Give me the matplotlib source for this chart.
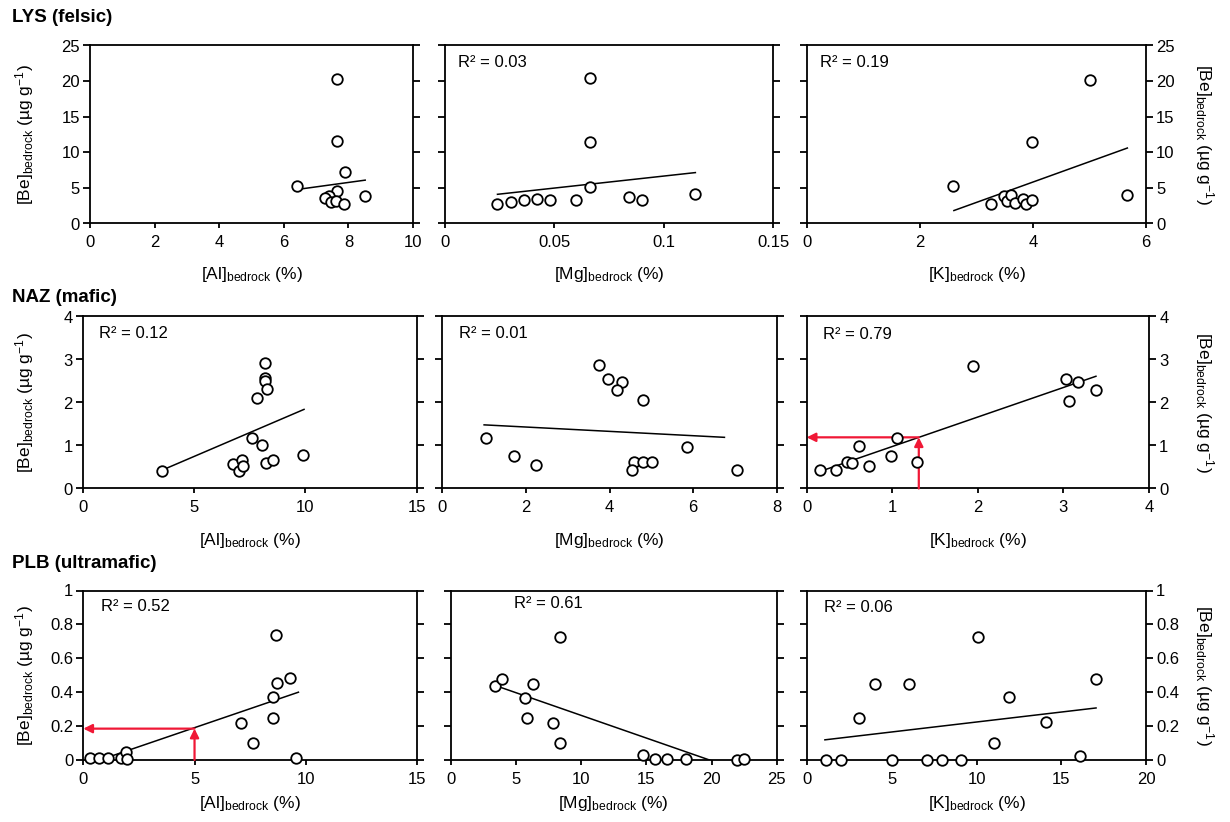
import matplotlib
matplotlib.use("Agg")
import matplotlib.pyplot as plt

plt.rcParams['font.family'] = ['Liberation Sans', 'DejaVu Sans']
plt.rcParams['mathtext.fontset'] = 'custom'
plt.rcParams['mathtext.rm'] = 'Liberation Sans'
plt.rcParams['mathtext.it'] = 'Liberation Sans:italic'
plt.rcParams['mathtext.bf'] = 'Liberation Sans:bold'

# ---------------- data ----------------
row_titles = ['LYS (felsic)', 'NAZ (mafic)', 'PLB (ultramafic)']
elements = ['Al', 'Mg', 'K']

# LYS (felsic)
lys_al_x = [6.40, 7.65, 7.65, 7.88, 7.65, 7.40, 7.28, 7.45, 7.62, 7.87, 8.52]
lys_al_y = [5.2, 20.3, 11.6, 7.3, 4.6, 3.9, 3.6, 3.0, 3.2, 2.8, 3.9]
lys_al_fit_x = [6.40, 8.52]
lys_al_fit_y = [4.77, 6.09]

lys_mg_x = [0.024, 0.030, 0.036, 0.042, 0.048, 0.060, 0.0665, 0.0665, 0.0665, 0.084, 0.090, 0.1145]
lys_mg_y = [2.7, 3.0, 3.3, 3.4, 3.3, 3.3, 5.1, 11.5, 20.4, 3.7, 3.3, 4.2]
lys_mg_fit_x = [0.024, 0.1145]
lys_mg_fit_y = [4.1, 7.15]

lys_k_x = [2.59, 3.26, 3.48, 3.54, 3.61, 3.68, 3.82, 3.88, 3.98, 3.99, 5.01, 5.66]
lys_k_y = [5.2, 2.75, 3.8, 3.1, 3.96, 2.9, 3.5, 2.8, 3.26, 11.4, 20.2, 3.96]
lys_k_fit_x = [2.60, 5.67]
lys_k_fit_y = [1.82, 10.6]

# NAZ (mafic)
naz_al_x = [3.58, 6.77, 7.00, 7.14, 7.20, 7.59, 7.81, 8.07, 8.19, 8.19, 8.20, 8.22, 8.26, 8.53, 9.91]
naz_al_y = [0.40, 0.56, 0.40, 0.66, 0.52, 1.18, 2.11, 1.01, 2.91, 2.57, 2.50, 0.60, 2.31, 0.66, 0.79]
naz_al_fit_x = [3.58, 9.94]
naz_al_fit_y = [0.43, 1.84]

naz_mg_x = [1.04, 1.72, 2.24, 3.76, 3.96, 4.31, 4.19, 4.81, 4.59, 4.81, 5.02, 4.53, 5.85, 7.04]
naz_mg_y = [1.17, 0.75, 0.55, 2.88, 2.54, 2.47, 2.29, 2.06, 0.62, 0.61, 0.61, 0.42, 0.96, 0.42]
naz_mg_fit_x = [1.00, 6.75]
naz_mg_fit_y = [1.48, 1.19]

naz_k_x = [0.16, 0.34, 0.47, 0.53, 0.61, 0.73, 0.99, 1.06, 1.29, 1.94, 3.03, 3.17, 3.07, 3.38]
naz_k_y = [0.44, 0.43, 0.62, 0.60, 0.98, 0.53, 0.75, 1.18, 0.61, 2.85, 2.55, 2.47, 2.04, 2.28]
naz_k_fit_x = [0.16, 3.38]
naz_k_fit_y = [0.40, 2.61]

# PLB (ultramafic)
plb_al_x = [0.30, 0.70, 1.12, 1.68, 1.90, 1.95, 7.09, 7.65, 8.52, 8.52, 8.70, 8.67, 9.27, 9.57]
plb_al_y = [0.01, 0.01, 0.014, 0.014, 0.045, 0.006, 0.22, 0.10, 0.25, 0.37, 0.455, 0.735, 0.484, 0.014]
plb_al_fit_x = [0.30, 9.67]
plb_al_fit_y = [-0.02, 0.40]

plb_mg_x = [3.40, 3.91, 6.34, 5.70, 5.83, 7.83, 8.39, 8.39, 14.71, 15.68, 16.57, 18.06, 21.94, 22.46]
plb_mg_y = [0.439, 0.478, 0.449, 0.366, 0.246, 0.217, 0.098, 0.724, 0.03, 0.006, 0.006, 0.006, 0.0, 0.006]
plb_mg_fit_x = [3.40, 22.46]
plb_mg_fit_y = [0.44, -0.07]

plb_k_x = [1.08, 1.99, 3.05, 4.0, 5.02, 6.0, 7.09, 7.97, 9.06, 10.06, 11.04, 11.93, 14.07, 16.1, 17.05]
plb_k_y = [0, 0, 0.25, 0.45, 0, 0.45, 0, 0, 0, 0.727, 0.103, 0.37, 0.222, 0.024, 0.479]
plb_k_fit_x = [1.04, 17.05]
plb_k_fit_y = [0.119, 0.307]

r2_texts = [[None, 'R² = 0.03', 'R² = 0.19'],
            ['R² = 0.12', 'R² = 0.01', 'R² = 0.79'],
            ['R² = 0.52', 'R² = 0.61', 'R² = 0.06']]

xticks = [[[0, 2, 4, 6, 8, 10], [0, 0.05, 0.1, 0.15], [0, 2, 4, 6]],
          [[0, 5, 10, 15], [0, 2, 4, 6, 8], [0, 1, 2, 3, 4]],
          [[0, 5, 10, 15], [0, 5, 10, 15, 20, 25], [0, 5, 10, 15, 20]]]
yticks = [[0, 5, 10, 15, 20, 25],
          [0, 1, 2, 3, 4],
          [0, 0.2, 0.4, 0.6, 0.8, 1]]

# red reading arrows: (x value, Be value)
naz_k_arrow = (1.31, 1.19)
plb_al_arrow = (5.0, 0.185)

data = [[(lys_al_x, lys_al_y, lys_al_fit_x, lys_al_fit_y),
         (lys_mg_x, lys_mg_y, lys_mg_fit_x, lys_mg_fit_y),
         (lys_k_x, lys_k_y, lys_k_fit_x, lys_k_fit_y)],
        [(naz_al_x, naz_al_y, naz_al_fit_x, naz_al_fit_y),
         (naz_mg_x, naz_mg_y, naz_mg_fit_x, naz_mg_fit_y),
         (naz_k_x, naz_k_y, naz_k_fit_x, naz_k_fit_y)],
        [(plb_al_x, plb_al_y, plb_al_fit_x, plb_al_fit_y),
         (plb_mg_x, plb_mg_y, plb_mg_fit_x, plb_mg_fit_y),
         (plb_k_x, plb_k_y, plb_k_fit_x, plb_k_fit_y)]]

# ---------------- layout (pixels) ----------------
W, H = 1230, 822
row_tb = [(45.5, 223.5), (316.5, 488.5), (590.5, 760.0)]
col_lr = [[(90, 413), (445, 773), (807, 1146)],
          [(82.7, 416.7), (442.3, 776.7), (806.7, 1149)],
          [(83.3, 417), (450.7, 776.7), (807.3, 1146)]]
title_y = [18, 297, 563]
xlabel_y = [274, 540, 803]
r2_pos = [[None, (0.04, 0.903), (0.037, 0.903)],
          [(0.049, 0.903), (0.051, 0.904), (0.049, 0.893)],
          [(0.053, 0.908), (0.195, 0.921), (0.05, 0.90)]]

RED = '#f01836'

fig = plt.figure(figsize=(W / 100, H / 100), dpi=100)

def fmt(v):
    return '{:g}'.format(v)

for r in range(3):
    t, b = row_tb[r]
    fig.text(12 / W, 1 - title_y[r] / H, row_titles[r], fontsize=13.5,
             fontweight='bold', ha='left', va='center')
    for c in range(3):
        l, rr = col_lr[r][c]
        ax = fig.add_axes([l / W, 1 - b / H, (rr - l) / W, (b - t) / H])
        x, y, fx, fy = data[r][c]
        xt = xticks[r][c]
        yt = yticks[r]
        ax.plot(fx, fy, color='black', lw=1.1, zorder=2)
        ax.plot(x, y, linestyle='none', marker='o', ms=7.6, mfc='white',
                mec='black', mew=1.3, clip_on=False, zorder=4)
        ax.set_xlim(xt[0], xt[-1])
        ax.set_ylim(yt[0], yt[-1])
        ax.set_xticks(xt)
        ax.set_xticklabels([fmt(v) for v in xt])
        ax.set_yticks(yt)
        ax.set_yticklabels([fmt(v) for v in yt])
        for sp in ax.spines.values():
            sp.set_linewidth(1.3)
            sp.set_color('black')
        ax.tick_params(axis='x', direction='out', length=3.5, width=1.3,
                       labelsize=12, pad=5)
        ax.tick_params(axis='y', direction='out', length=4.8, width=1.3,
                       labelsize=12, pad=2.5, left=True, right=True,
                       labelleft=(c == 0), labelright=(c == 2))
        ax.set_xlabel('[' + elements[c] + r']$_{\mathrm{bedrock}}$ (%)',
                      fontsize=12.5, va='center')
        ax.xaxis.set_label_coords(0.5, -(xlabel_y[r] - b) / (b - t))
        ylab = r'[Be]$_{\mathrm{bedrock}}$ (µg g$^{\mathrm{-1}}$)'
        h = b - t
        if c == 0:
            ax.set_ylabel(ylab, fontsize=12.5, va='center')
            ax.yaxis.set_label_coords((25 - l) / (rr - l), 0.5)
        elif c == 2:
            ax.yaxis.set_label_position('right')
            ax.set_ylabel(ylab, fontsize=12.5, rotation=270, va='center')
            ax.yaxis.set_label_coords((1204 - l) / (rr - l), 0.5)
        if r2_texts[r][c]:
            px, py = r2_pos[r][c]
            ax.text(px, py, r2_texts[r][c], transform=ax.transAxes,
                    fontsize=12, ha='left', va='center')
        arrow = None
        if r == 1 and c == 2:
            arrow = naz_k_arrow
        if r == 2 and c == 0:
            arrow = plb_al_arrow
        if arrow:
            ax0, ay0 = arrow
            ap = dict(arrowstyle='-|>', color=RED, lw=1.6, mutation_scale=13,
                      shrinkA=0, shrinkB=0)
            ax.annotate('', xy=(ax0, ay0), xytext=(ax0, yt[0]),
                        arrowprops=ap, zorder=3)
            ax.annotate('', xy=(xt[0], ay0), xytext=(ax0, ay0),
                        arrowprops=ap, zorder=3)

fig.savefig('out.png', dpi=100)
